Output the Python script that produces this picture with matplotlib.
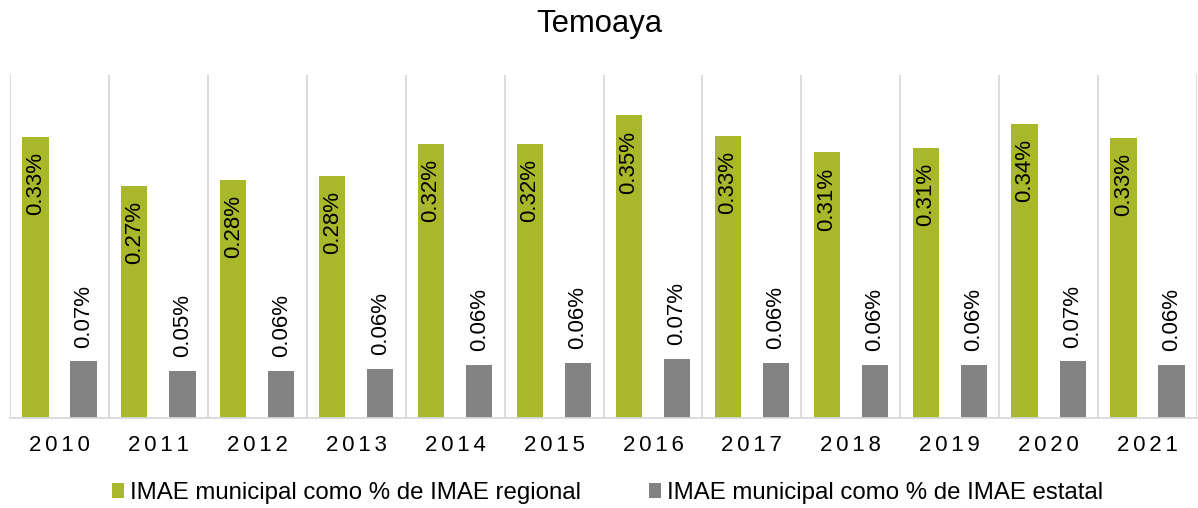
import matplotlib
matplotlib.use("Agg")
import matplotlib.pyplot as plt
import numpy as np

plt.rcParams['font.family'] = ['Liberation Sans', 'DejaVu Sans']

title = "Temoaya"
years = ["2010", "2011", "2012", "2013", "2014", "2015",
         "2016", "2017", "2018", "2019", "2020", "2021"]
regional = [0.328, 0.271, 0.278, 0.282, 0.320, 0.320,
            0.353, 0.329, 0.310, 0.315, 0.343, 0.327]
estatal = [0.066, 0.055, 0.055, 0.057, 0.062, 0.064,
           0.069, 0.064, 0.062, 0.062, 0.066, 0.062]
regional_labels = ["0.33%", "0.27%", "0.28%", "0.28%", "0.32%", "0.32%",
                   "0.35%", "0.33%", "0.31%", "0.31%", "0.34%", "0.33%"]
estatal_labels = ["0.07%", "0.05%", "0.06%", "0.06%", "0.06%", "0.06%",
                  "0.07%", "0.06%", "0.06%", "0.06%", "0.07%", "0.06%"]
series_names = ["IMAE municipal como % de IMAE regional",
                "IMAE municipal como % de IMAE estatal"]

green = "#A8B82A"
gray = "#838383"
sep = "#D9D9D9"

fig = plt.figure(figsize=(11.98, 5.08), dpi=100)
ax = fig.add_axes([10 / 1198, 1 - 418 / 508, 1187 / 1198, 343 / 508])

x = np.arange(len(years))
w = 0.265
off = 0.243
b1 = ax.bar(x - off, regional, w, color=green, label=series_names[0])
b2 = ax.bar(x + off, estatal, w, color=gray, label=series_names[1])

for xi, v, t in zip(x - off, regional, regional_labels):
    ax.annotate(t, (xi, v), xytext=(0, -11), textcoords="offset points",
                rotation=90, ha="center", va="top", fontsize=16, color="#000000")
for xi, v, t in zip(x + off, estatal, estatal_labels):
    ax.annotate(t, (xi, v), xytext=(0, 10), textcoords="offset points",
                rotation=90, ha="center", va="bottom", fontsize=16, color="#000000")

for b in np.arange(-0.5, len(years) + 0.5, 1.0):
    ax.axvline(b, color=sep, lw=1.3, zorder=0)

ax.set_xlim(-0.5, len(years) - 0.5)
ax.set_ylim(0, 0.40)
ax.set_yticks([])
ax.set_xticks(x)
ax.set_xticklabels(["\u2006".join(y) for y in years], fontsize=16)
ax.tick_params(axis="x", length=0, pad=12)
for s in ["top", "right", "left"]:
    ax.spines[s].set_visible(False)
ax.spines["bottom"].set_color(sep)
ax.spines["bottom"].set_linewidth(1.3)

fig.text(0.5, 1 - 24 / 508, title, ha="center", va="center", fontsize=22.3)

fig.legend(handles=[b1, b2], labels=series_names, loc="center",
           bbox_to_anchor=(0.507, 1 - 493 / 508), ncol=2, frameon=False,
           fontsize=17.3, handlelength=0.5, handleheight=0.55,
           handletextpad=0.25, columnspacing=2.85)

fig.savefig("out.png", dpi=100)
